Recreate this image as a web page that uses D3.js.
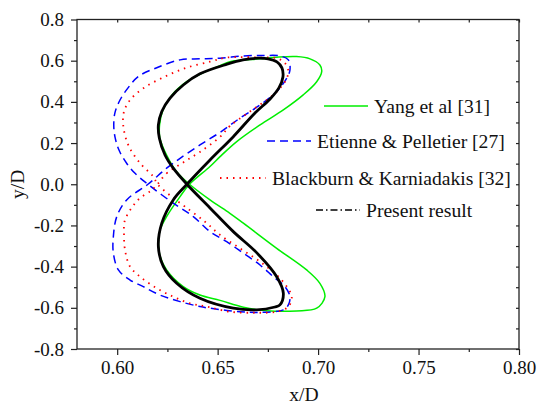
<!DOCTYPE html>
<html>
<head>
<meta charset="utf-8">
<script src="https://cdn.jsdelivr.net/npm/d3@7"></script>
<style>
  html, body { margin: 0; padding: 0; background: #fff; }
  svg text { font-family: "Liberation Serif", "Times New Roman", serif; fill: #111; }
</style>
</head>
<body>
<svg id="chart" width="537" height="405"></svg>
<script>
// ---- data (x/D, y/D) ----
const seriesNames = ["Yang et al [31]", "Etienne & Pelletier [27]", "Blackburn & Karniadakis [32]", "Present result"];

const yangX = [0.6360,0.6462,0.6512,0.6595,0.6711,0.6827,0.6926,0.6993,0.7018,0.7009,0.6960,0.6893,0.6794,0.6711,0.6561,0.6512,0.6412,0.6346,0.6273,0.6228,0.6211,0.6213,0.6246,0.6296,
               0.6360,0.6462,0.6561,0.6628,0.6794,0.6943,0.7009,0.7034,0.6993,0.6893,0.6744,0.6628,0.6512,0.6412,0.6329,0.6246,0.6213,0.6205,0.6213,0.6246,0.6313];
const yangY = [0.000,0.086,0.134,0.207,0.288,0.361,0.434,0.498,0.547,0.579,0.609,0.620,0.617,0.609,0.595,0.576,0.534,0.498,0.434,0.361,0.288,0.223,0.142,0.061,
               0.000,-0.076,-0.141,-0.189,-0.311,-0.416,-0.481,-0.546,-0.602,-0.615,-0.614,-0.597,-0.564,-0.538,-0.497,-0.416,-0.348,-0.285,-0.222,-0.157,-0.060];

const etienneX = [0.6153,0.6246,0.6313,0.6412,0.6512,0.6611,0.6711,0.6794,0.6844,0.6860,0.6852,0.6810,0.6727,0.6628,0.6512,0.6412,0.6313,0.6197,0.6105,0.6054,0.6014,0.5989,0.5983,0.5989,0.6009,0.6047,0.6089,
                  0.6153,0.6279,0.6379,0.6462,0.6545,0.6628,0.6711,0.6777,0.6835,0.6860,0.6852,0.6827,0.6711,0.6611,0.6462,0.6412,0.6313,0.6213,0.6130,0.6064,0.6006,0.5981,0.5981,0.5998,0.6047];
const etienneY = [0.000,0.078,0.126,0.191,0.252,0.321,0.385,0.450,0.515,0.555,0.604,0.623,0.625,0.623,0.612,0.609,0.604,0.566,0.523,0.468,0.409,0.348,0.288,0.230,0.166,0.102,0.053,
                  0.000,-0.092,-0.157,-0.230,-0.279,-0.335,-0.392,-0.449,-0.497,-0.546,-0.586,-0.610,-0.622,-0.619,-0.602,-0.594,-0.570,-0.538,-0.497,-0.465,-0.416,-0.335,-0.254,-0.157,-0.076];

const blackburnX = [0.6201,0.6246,0.6329,0.6412,0.6512,0.6561,0.6661,0.6777,0.6835,0.6852,0.6835,0.6794,0.6711,0.6545,0.6462,0.6346,0.6238,0.6130,0.6064,0.6034,0.6030,0.6055,0.6114,0.6180,
                    0.6201,0.6271,0.6338,0.6437,0.6512,0.6611,0.6711,0.6794,0.6844,0.6869,0.6852,0.6794,0.6694,0.6561,0.6446,0.6362,0.6279,0.6197,0.6114,0.6064,0.6039,0.6034,0.6039,0.6104,0.6172];
const blackburnY = [0.000,0.053,0.106,0.157,0.230,0.283,0.353,0.434,0.498,0.547,0.588,0.612,0.615,0.615,0.595,0.566,0.523,0.466,0.409,0.353,0.288,0.191,0.102,0.037,
                    0.000,-0.060,-0.109,-0.182,-0.246,-0.311,-0.376,-0.441,-0.497,-0.546,-0.594,-0.619,-0.624,-0.619,-0.594,-0.578,-0.546,-0.505,-0.449,-0.400,-0.319,-0.238,-0.173,-0.076,-0.028];

const presentX = [0.6347,0.6462,0.6578,0.6686,0.6761,0.6805,0.6825,0.6820,0.6795,0.6751,0.6701,0.6626,0.6547,0.6412,0.6329,0.6263,0.6222,0.6205,0.6210,0.6238,0.6279,
                  0.6347,0.6462,0.6578,0.6694,0.6794,0.6827,0.6810,0.6785,0.6694,0.6578,0.6412,0.6296,0.6230,0.6205,0.6222,0.6279];
const presentY = [0.000,0.118,0.231,0.346,0.414,0.468,0.521,0.565,0.594,0.609,0.612,0.604,0.583,0.536,0.482,0.418,0.353,0.288,0.223,0.142,0.078,
                  0.000,-0.115,-0.230,-0.332,-0.449,-0.529,-0.586,-0.596,-0.610,-0.602,-0.554,-0.481,-0.400,-0.303,-0.189,-0.076];

const xTickValues = [0.60, 0.65, 0.70, 0.75, 0.80];
const xTickLabels = ["0.60", "0.65", "0.70", "0.75", "0.80"];
const xMinorValues = [0.625, 0.675, 0.725, 0.775];
const yTickValues = [-0.8, -0.6, -0.4, -0.2, 0.0, 0.2, 0.4, 0.6, 0.8];
const yTickLabels = ["-0.8", "-0.6", "-0.4", "-0.2", "0.0", "0.2", "0.4", "0.6", "0.8"];
const yMinorValues = [-0.7, -0.5, -0.3, -0.1, 0.1, 0.3, 0.5, 0.7];

// ---- layout ----
const svg = d3.select("#chart");
const mLeft = 77, mRight = 519, mTop = 19.5, mBottom = 349;
const x = d3.scaleLinear().domain([0.58, 0.80]).range([mLeft, mRight]);
const y = d3.scaleLinear().domain([-0.8, 0.8]).range([mBottom, mTop]);
const FS = "19px";
const FSL = "19.6px";
const axisColor = "#222";

function styleAxis(g) {
  g.select(".domain").remove();
  g.selectAll("line").attr("stroke", axisColor).attr("stroke-width", 1.2);
  g.selectAll("text").attr("font-size", FS).attr("fill", "#111")
    .style("font-family", '"Liberation Serif", "Times New Roman", serif');
}

// bottom
svg.append("g").attr("transform", `translate(0,${mBottom})`)
  .call(d3.axisBottom(x).tickValues(xTickValues).tickSize(6).tickPadding(6)
    .tickFormat((d, i) => xTickLabels[i])).call(styleAxis);
svg.append("g").attr("transform", `translate(0,${mBottom})`)
  .call(d3.axisBottom(x).tickValues(xMinorValues).tickSize(3).tickFormat("")).call(styleAxis);
// left
svg.append("g").attr("transform", `translate(${mLeft},0)`)
  .call(d3.axisLeft(y).tickValues(yTickValues).tickSize(6).tickPadding(7)
    .tickFormat((d, i) => yTickLabels[i])).call(styleAxis);
svg.append("g").attr("transform", `translate(${mLeft},0)`)
  .call(d3.axisLeft(y).tickValues(yMinorValues).tickSize(3).tickFormat("")).call(styleAxis);
// top (inward)
svg.append("g").attr("transform", `translate(0,${mTop})`)
  .call(d3.axisTop(x).tickValues(xTickValues.concat(xMinorValues)).tickSize(-3).tickFormat("")).call(styleAxis);
// right (inward)
svg.append("g").attr("transform", `translate(${mRight},0)`)
  .call(d3.axisRight(y).tickValues(yTickValues.concat(yMinorValues)).tickSize(-3).tickFormat("")).call(styleAxis);

// frame
svg.append("rect").attr("x", mLeft).attr("y", mTop).attr("width", mRight - mLeft).attr("height", mBottom - mTop)
  .attr("fill", "none").attr("stroke", axisColor).attr("stroke-width", 1.3);

// axis titles
svg.append("text").attr("x", 304).attr("y", 401).attr("text-anchor", "middle")
  .attr("font-size", FSL).text("x/D");
svg.append("text").attr("transform", `translate(24,${y(0)}) rotate(-90)`).attr("text-anchor", "middle")
  .attr("font-size", FSL).text("y/D");

// ---- curves ----
const line = d3.line().x(d => x(d[0])).y(d => y(d[1])).curve(d3.curveCatmullRomClosed.alpha(0.5));
const zip = (a, b) => a.map((v, i) => [v, b[i]]);

const series = [
  { pts: zip(yangX, yangY), color: "#00ee00", width: 1.5, dash: null },
  { pts: zip(etienneX, etienneY), color: "#0000ff", width: 1.5, dash: "8,5" },
  { pts: zip(blackburnX, blackburnY), color: "#ff0000", width: 1.8, dash: "1.5,5" },
  { pts: zip(presentX, presentY), color: "#000000", width: 2.8, dash: null }
];
const plot = svg.append("g");
series.forEach(s => {
  plot.append("path").attr("d", line(s.pts)).attr("fill", "none")
    .attr("stroke", s.color).attr("stroke-width", s.width)
    .attr("stroke-dasharray", s.dash).attr("stroke-linejoin", "round");
});

// ---- legend ----
const legend = [
  { x0: 324, x1: 368, yy: 106, color: "#00ee00", dash: null, w: 1.5 },
  { x0: 267, x1: 311, yy: 141, color: "#0000ff", dash: "8,5", w: 1.5 },
  { x0: 220, x1: 266, yy: 178, color: "#ff0000", dash: "1.5,5", w: 1.8 },
  { x0: 316, x1: 360, yy: 210, color: "#000000", dash: "7,3,1.5,3", w: 1.3 }
];
legend.forEach((l, i) => {
  svg.append("line").attr("x1", l.x0).attr("x2", l.x1).attr("y1", l.yy).attr("y2", l.yy)
    .attr("stroke", l.color).attr("stroke-width", l.w).attr("stroke-dasharray", l.dash);
  svg.append("text").attr("x", l.x1 + 6).attr("y", l.yy + 7).attr("font-size", FSL).text(seriesNames[i]);
});
</script>
</body>
</html>
